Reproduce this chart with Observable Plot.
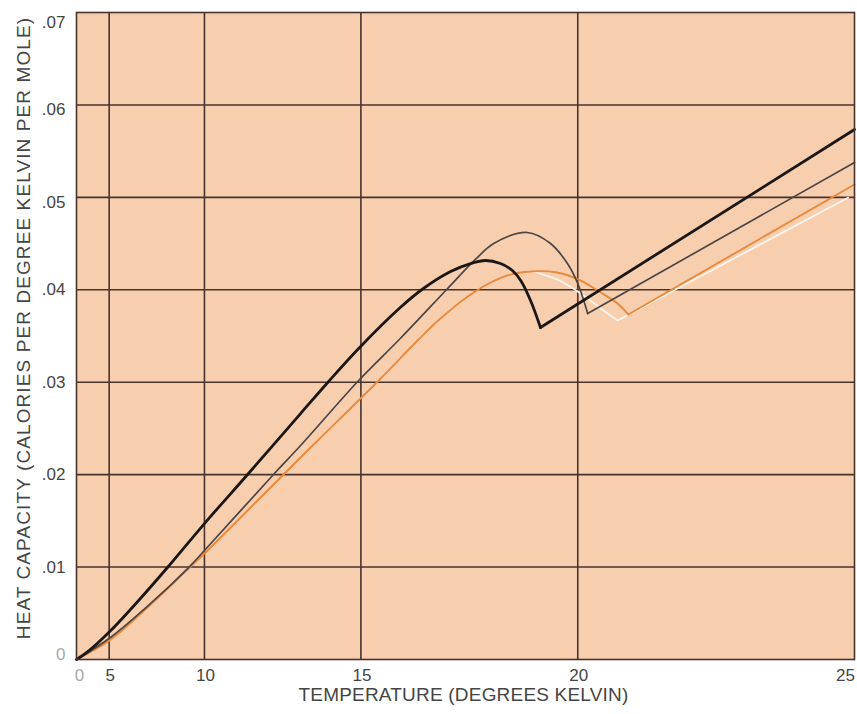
<!DOCTYPE html>
<html>
<head>
<meta charset="utf-8">
<script src="https://cdn.jsdelivr.net/npm/d3@7"></script>
<script src="https://cdn.jsdelivr.net/npm/@observablehq/plot@0.6"></script>
<style>
  html, body { margin: 0; padding: 0; background: #ffffff; }
</style>
</head>
<body>
<div id="chart"></div>
<script>
// ---- Data (temperature in K, heat capacity in cal / K / mol) ----
// Black curve: smooth part up to the kink, then straight rise
const blackT = [0, 3.00, 5.10, 7.03, 8.41, 10.00, 11.59, 13.29, 14.11, 14.94, 16.02, 16.59, 17.24, 17.70, 18.04, 18.37, 18.63, 18.81, 19.02, 19.23];
const blackC = [0, 0.0009, 0.0031, 0.0066, 0.00995, 0.01471, 0.02002, 0.02661, 0.03008, 0.03365, 0.03808, 0.04014, 0.04198, 0.04284, 0.04317, 0.04284, 0.04209, 0.04100, 0.03884, 0.03592];
const blackRiseT = [19.23, 25];
const blackRiseC = [0.03592, 0.05734];

// Gray curve
const grayT = [0, 5.10, 7.58, 9.35, 10.00, 12.45, 13.29, 14.94, 16.02, 17.17, 17.81, 18.22, 18.95, 19.44, 19.79, 20.00, 20.20];
const grayC = [0, 0.00238, 0.00606, 0.00995, 0.01179, 0.02002, 0.02315, 0.03019, 0.03473, 0.04014, 0.04328, 0.04501, 0.04620, 0.04501, 0.04284, 0.04068, 0.03743];
const grayRiseT = [20.20, 25];
const grayRiseC = [0.03743, 0.05377];

// Orange curve
const orangeT = [0, 5.10, 7.58, 9.39, 10.00, 12.77, 13.59, 15.47, 16.45, 17.00, 17.77, 18.52, 19.02, 19.58, 20.06, 20.46, 20.79, 21.00];
const orangeC = [0, 0.00215, 0.00595, 0.00995, 0.01147, 0.02002, 0.02294, 0.03019, 0.03451, 0.03689, 0.03971, 0.04155, 0.04198, 0.04187, 0.04100, 0.03971, 0.03852, 0.03733];
const orangeRiseT = [21.00, 25];
const orangeRiseC = [0.03733, 0.05139];

// White curve (coincides with orange below ~18.5 K)
const whiteT = [18.52, 19.02, 19.34, 19.58, 20.06, 20.46, 20.79];
const whiteC = [0.04155, 0.04198, 0.04155, 0.04111, 0.03960, 0.03797, 0.03668];
const whiteRiseT = [20.79, 24.90];
const whiteRiseC = [0.03668, 0.04998];

// Axes / grid
const xGrid = [5, 10, 15, 20];
const yGrid = [0.01, 0.02, 0.03, 0.04, 0.05, 0.06];
const xTickLabels = [5, 10, 15, 20];
const yTickTop = [0.07];
const yTickUpper = [0.06, 0.05];
const yTickLower = [0.04, 0.03, 0.02, 0.01];
const zeroTick = [0];
const lastXTick = [25];
const xTitle = "TEMPERATURE (DEGREES KELVIN)";
const yTitle = "HEAT CAPACITY (CALORIES PER DEGREE KELVIN PER MOLE)";

// ---- Build tables ----
const rows = (T, C) => T.map((t, i) => ({t, c: C[i]}));
const fmtY = d => d === 0 ? "0" : d.toFixed(2).slice(1);

const gridColor = "#47332c";
const textColor = "#454545";
const font = "'Liberation Sans', Arial, Helvetica, sans-serif";

const lineOpts = (stroke, w, curve) => ({
  x: "t", y: "c", stroke, strokeWidth: w, curve,
  strokeLinejoin: "round", strokeLinecap: "round"
});

const chart = Plot.plot({
  width: 857,
  height: 714,
  marginLeft: 76,
  marginRight: 3,
  marginTop: 12,
  marginBottom: 55,
  style: {background: "#ffffff", fontFamily: font},
  x: {type: "pow", exponent: 1.97, domain: [0, 25], axis: null},
  y: {domain: [0, 0.07], axis: null},
  marks: [
    Plot.frame({fill: "#f8cfae"}),
    Plot.ruleX(xGrid, {stroke: gridColor, strokeWidth: 1.6}),
    Plot.ruleY(yGrid, {stroke: gridColor, strokeWidth: 1.6}),

    Plot.line(rows(whiteT, whiteC), lineOpts("#fdf6ee", 1.7, "catmull-rom")),
    Plot.line(rows(whiteRiseT, whiteRiseC), lineOpts("#fdf6ee", 1.7, "linear")),
    Plot.line(rows(orangeT, orangeC), lineOpts("#e9893b", 1.9, "catmull-rom")),
    Plot.line(rows(orangeRiseT, orangeRiseC), lineOpts("#e9893b", 1.9, "linear")),
    Plot.line(rows(grayT, grayC), lineOpts("#4d4444", 1.7, "catmull-rom")),
    Plot.line(rows(grayRiseT, grayRiseC), lineOpts("#4d4444", 1.7, "linear")),
    Plot.line(rows(blackT, blackC), lineOpts("#1c1717", 2.8, "catmull-rom")),
    Plot.line(rows(blackRiseT, blackRiseC), lineOpts("#1c1717", 2.8, "linear")),

    Plot.frame({stroke: gridColor, strokeWidth: 1.6}),

    // y tick labels
    Plot.text(yTickTop, {y: d => d, text: fmtY, frameAnchor: "left", dx: -11, dy: 10, textAnchor: "end", fontSize: 17, fill: textColor}),
    Plot.text(yTickUpper, {y: d => d, text: fmtY, frameAnchor: "left", dx: -11, dy: 5, textAnchor: "end", fontSize: 17, fill: textColor}),
    Plot.text(yTickLower, {y: d => d, text: fmtY, frameAnchor: "left", dx: -11, dy: 0, textAnchor: "end", fontSize: 17, fill: textColor}),
    Plot.text(zeroTick, {y: d => d, text: fmtY, frameAnchor: "left", dx: -11, dy: -5, textAnchor: "end", fontSize: 17, fill: "#a8a8a8"}),

    // x tick labels
    Plot.text(xTickLabels, {x: d => d, text: d => String(d), frameAnchor: "bottom", dy: 21, dx: 1, fontSize: 17, fill: textColor}),
    Plot.text(zeroTick, {x: d => d, text: d => String(d), frameAnchor: "bottom", dy: 21, dx: 3, fontSize: 17, fill: "#a8a8a8"}),
    Plot.text(lastXTick, {x: d => d, text: d => String(d), frameAnchor: "bottom", dy: 21, dx: -9, fontSize: 17, fill: textColor}),

    // axis titles
    Plot.text([xTitle], {text: d => d, frameAnchor: "bottom", textAnchor: "middle", dy: 41, dx: -2, fontSize: 19, fill: textColor}),
    Plot.text([yTitle], {text: d => d, frameAnchor: "left", textAnchor: "middle", dx: -53, dy: -8, rotate: -90, fontSize: 19, fill: textColor})
  ]
});

d3.select(chart).selectAll("text").each(function() {
  const s = d3.select(this);
  if (s.text() === yTitle) s.style("letter-spacing", "1.1px");
  if (s.text() === xTitle) s.style("letter-spacing", "0.2px");
});

document.getElementById("chart").appendChild(chart);
</script>
</body>
</html>
